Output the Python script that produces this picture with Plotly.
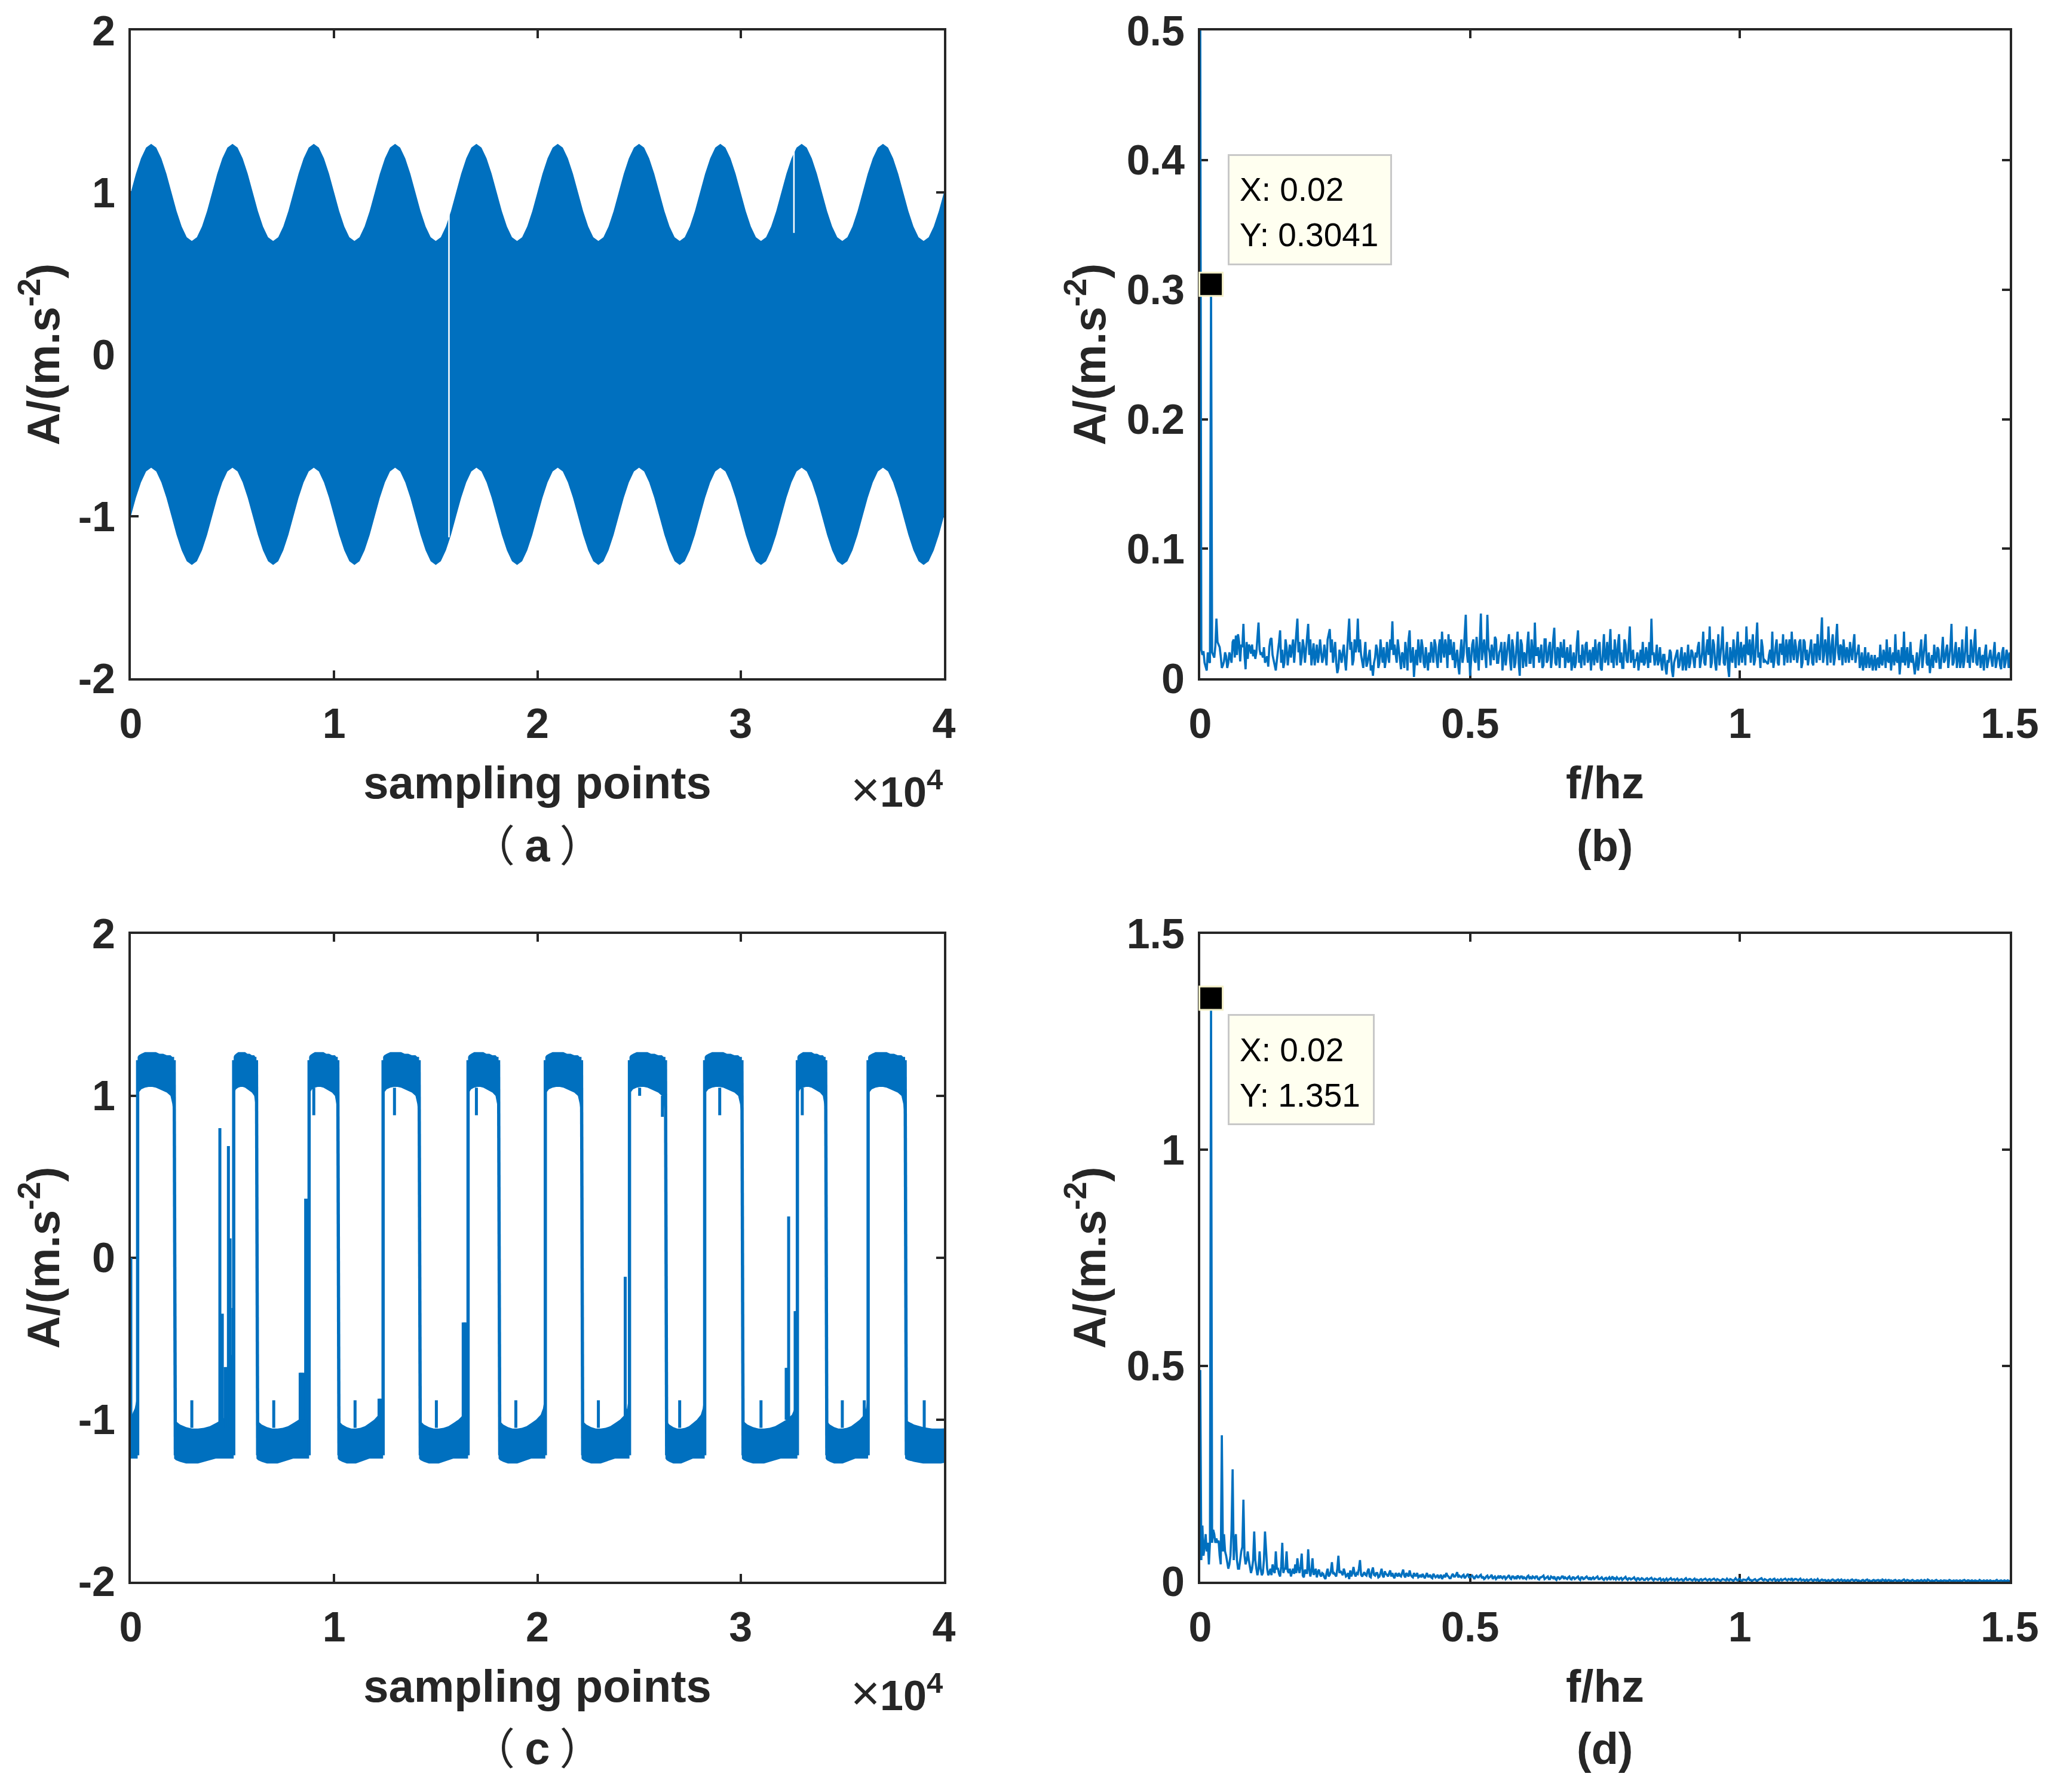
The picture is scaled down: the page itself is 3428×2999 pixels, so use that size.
import plotly.graph_objects as go

# ---------- data ----------
a_x = list(range(0, 40001, 250))
a_top = [
 1.00,1.115,1.21,1.277,1.30,1.277,1.21,1.115,1.00,.885,.79,.723,.70,.723,.79,.885,
 1.00,1.115,1.21,1.277,1.30,1.277,1.21,1.115,1.00,.885,.79,.723,.70,.723,.79,.885,
 1.00,1.115,1.21,1.277,1.30,1.277,1.21,1.115,1.00,.885,.79,.723,.70,.723,.79,.885,
 1.00,1.115,1.21,1.277,1.30,1.277,1.21,1.115,1.00,.885,.79,.723,.70,.723,.79,.885,
 1.00,1.115,1.21,1.277,1.30,1.277,1.21,1.115,1.00,.885,.79,.723,.70,.723,.79,.885,
 1.00,1.115,1.21,1.277,1.30,1.277,1.21,1.115,1.00,.885,.79,.723,.70,.723,.79,.885,
 1.00,1.115,1.21,1.277,1.30,1.277,1.21,1.115,1.00,.885,.79,.723,.70,.723,.79,.885,
 1.00,1.115,1.21,1.277,1.30,1.277,1.21,1.115,1.00,.885,.79,.723,.70,.723,.79,.885,
 1.00,1.115,1.21,1.277,1.30,1.277,1.21,1.115,1.00,.885,.79,.723,.70,.723,.79,.885,
 1.00,1.115,1.21,1.277,1.30,1.277,1.21,1.115,1.00,.885,.79,.723,.70,.723,.79,.885,
 1.00]
a_bottom = [
 -1.00,-.885,-.79,-.723,-.70,-.723,-.79,-.885,-1.00,-1.115,-1.21,-1.277,-1.30,-1.277,-1.21,-1.115,
 -1.00,-.885,-.79,-.723,-.70,-.723,-.79,-.885,-1.00,-1.115,-1.21,-1.277,-1.30,-1.277,-1.21,-1.115,
 -1.00,-.885,-.79,-.723,-.70,-.723,-.79,-.885,-1.00,-1.115,-1.21,-1.277,-1.30,-1.277,-1.21,-1.115,
 -1.00,-.885,-.79,-.723,-.70,-.723,-.79,-.885,-1.00,-1.115,-1.21,-1.277,-1.30,-1.277,-1.21,-1.115,
 -1.00,-.885,-.79,-.723,-.70,-.723,-.79,-.885,-1.00,-1.115,-1.21,-1.277,-1.30,-1.277,-1.21,-1.115,
 -1.00,-.885,-.79,-.723,-.70,-.723,-.79,-.885,-1.00,-1.115,-1.21,-1.277,-1.30,-1.277,-1.21,-1.115,
 -1.00,-.885,-.79,-.723,-.70,-.723,-.79,-.885,-1.00,-1.115,-1.21,-1.277,-1.30,-1.277,-1.21,-1.115,
 -1.00,-.885,-.79,-.723,-.70,-.723,-.79,-.885,-1.00,-1.115,-1.21,-1.277,-1.30,-1.277,-1.21,-1.115,
 -1.00,-.885,-.79,-.723,-.70,-.723,-.79,-.885,-1.00,-1.115,-1.21,-1.277,-1.30,-1.277,-1.21,-1.115,
 -1.00,-.885,-.79,-.723,-.70,-.723,-.79,-.885,-1.00,-1.115,-1.21,-1.277,-1.30,-1.277,-1.21,-1.115,
 -1.00]
a_gap_x = [15650, 15650, None, 32620, 32620]
a_gap_y = [1.0, -1.13, None, 1.31, 0.75]

freq_head = [i / 500 for i in range(61)]
b_head = [.5,.022,.018,.021,.012,.009,.006,.02,.013,.012,.3041,.02,.018,.016,.025,.046,.028,.026,.024,.017,
          .008,.01,.013,.02,.017,.008,.012,.02,.015,.012,.028,.03,.016,.033,.018,.034,.028,.013,.026,.024,
          .042,.018,.007,.028,.015,.026,.024,.019,.026,.017,.022,.015,.02,.03,.043,.022,.018,.02,.016,.024,.012]
b_tail = [
 .017,.024,.031,.014,.006,.02,.037,.022,.012,.024,.018,.016,.03,.022,.046,.028,.016,.024,.021,.042,.03,.02,.01,.026,.018,
 .022,.016,.018,.03,.038,.03,.02,.012,.008,.018,.02,.014,.02,.046,.028,.014,.02,.046,.03,.012,.018,.009,.017,.006,.002,
 .016,.022,.012,.019,.024,.014,.018,.03,.044,.026,.012,.022,.007,.018,.028,.006,.037,.015,.001,.022,.03,.012,.024,.008,.016,
 .02,.028,.012,.026,.008,.03,.036,.016,.024,.034,.03,.014,.008,.022,.003,.03,.018,.049,.012,.002,.026,.014,.032,.006,.05,
 .022,.018,.049,.02,.026,.014,.03,.012,.022,.006,.028,.018,.034,.006,.024,.012,.036,.002,.026,.02,.009,.036,.012,.02,.043,
 .018,.012,.026,.01,.03,.014,.028,.016,.039,.01,.022,.028,.016,.008,.024,.014,.006,.02,.012,.037,.018,.026,.01,.028,.016,
 .006,.024,.03,.012,.028,.006,.034,.016,.01,.038,.022,.03,.01,.034,.02,.008,.026,.012,.04,.016,.008,.014,.006,.022,.028,
 .012,.018,.028,.046,.02,.016,.01,.024,.006,.018,.003,.012,.02,.001,.016,.022,.01,.024,.014,.006,.026,.012,.02,.008,.016,
 .028,.014,.036,.01,.03,.04,.012,.026,.006,.034,.018,.04,.01,.028,.001,.016,.03,.008,.036,.02,.012,.026,.04,.018,.012,
 .034,.014,.043,.02,.03,.012,.013,.011,.022,.036,.014,.03,.01,.026,.034,.018,.012,.03,.036,.014,.024,.018,.03,.012,.028,
 .022,.016,.03,.01,.026,.034,.014,.047,.018,.024,.04,.012,.034,.016,.042,.014,.024,.03,.012,.02,.028,.014,.034,.018,.026,
 .012,.006,.024,.014,.008,.018,.012,.006,.016,.026,.01,.018,.03,.012,.006,.02,.034,.012,.003,.024,.036,.016,.008,.028,.018,
 .003,.02,.012,.03,.016,.034,.01,.004,.018,.026,.012,.022,.008,.032,.014,.026,.018,.042,.012,.028,.018,.008,.03,.014,.04,
 .018,.03,.012,.038,.01,.024,.016,.006,.026,.012,.022,.009,.028,.014,.02,.007,.024,.012,.018,.02,.006,.016,.012,.018,.01]
b_mid = [
 .009,.03,.018,.01,.014,.028,.012,.008,.03,.01,.026,.024,.012,.034,.02,.01,.03,.012,.03,.018,.01,.027,.02,.012,.03,
 .012,.026,.01,.034,.02,.012,.028,.004,.022,.012,.026,.006,.034,.022,.01,.03,.026,.02,.018,.008,.028,.012,.022,.01,.012,
 .026,.008,.03,.012,.008,.028,.012,.022,.018,.02,.03,.012,.02,.008,.02,.03,.012,.024,.014,.01,.02,.03,.012,.024,.006,
 .012,.018,.03,.014,.024,.012,.022,.03,.008,.018,.02,.028,.016,.01,.02,.012,.034,.02,.024,.014,.03,.012,.02,.028,.014,
 .03,.008,.024,.01,.018,.032,.012,.02,.028,.016,.01,.026,.014,.03,.008,.024,.012,.03,.008,.018,.026,.012,.03,.008,.018,
 .024,.02,.008,.03,.012,.024,.008,.03,.012,.024,.008,.018,.03,.016,.012,.026,.012,.008,.028,.012,.008,.018,.026,.012,.022,
 .018,.01,.016,.026,.008,.02,.012,.028,.022,.012,.008,.02,.026,.012,.008,.03,.014,.026,.012,.022,.014,.02,.016,.012,.01,
 .024,.008,.012,.018,.01,.026,.014,.012,.018,.008,.014,.022,.006,.012,.02,.008,.018,.006,.02,.014,.008,.022,.012,.02,.024,
 .008,.02,.012,.024,.018,.008,.03,.012,.022,.01,.026,.012,.022,.008,.024,.012,.02,.024,.01,.028,.022,.01,.02,.03,.024,
 .01,.028,.016,.008,.024,.014,.012,.018,.012,.008,.024,.012,.026,.018,.01,.03,.024,.012,.02,.03,.012,.028,.008,.03,.014,
 .01,.024,.012,.026,.012,.02,.03,.012,.03,.01,.022,.026,.01,.03,.02,.026,.01,.02,.024,.012,.02,.026,.012,.02,.008,
 .02,.012,.008,.02,.012,.006,.018,.014,.008,.012,.022,.008,.014,.024,.016,.01,.014,.022,.014,.012,.01,.024,.014,.012,.008,
 .012,.006,.022,.008,.024,.012,.02,.012,.008,.016,.024,.008,.02,.012,.022,.008,.024,.01,.02,.008,.024,.014,.008,.024,.012,
 .008,.02,.026,.012,.02,.008,.018,.02,.008,.018,.014,.02,.008,.018,.01,.02,.008,.022,.008,.012,.016,.008,.02,.012,.014]
d_head = [.49,.05,.13,.06,.08,.11,.07,.09,.04,.09,1.351,.09,.12,.11,.09,.10,.09,.095,.06,.04,
          .339,.07,.11,.07,.06,.04,.03,.04,.06,.12,.26,.05,.09,.11,.05,.03,.03,.05,.07,.08,
          .19,.06,.04,.05,.07,.05,.03,.02,.03,.05,.116,.05,.03,.015,.03,.07,.03,.015,.02,.05,.116]
d_tail = [
 .03,.02,.015,.025,.07,.03,.012,.09,.03,.07,.02,.012,.03,.04,.054,.02,.065,.01,.02,.075,.012,.054,.02,.01,.028,
 .012,.018,.006,.03,.016,.045,.02,.012,.06,.025,.015,.02,.014,.006,.012,.034,.012,.018,.05,.012,.022,.014,.03,.01,.033,
 .014,.02,.012,.03,.01,.018,.012,.026,.02,.008,.016,.02,.012,.028,.01,.016,.026,.012,.02,.014,.01,.016,.018,.008,.02,
 .012,.01,.018,.01,.016,.012,.006,.016,.02,.012,.008,.018,.012,.022,.014,.01,.016,.012,.018,.01,.014,.006,.014,.01,.016,
 .012,.008,.014,.01,.016,.01,.006,.012,.014,.008,.012,.01,.015,.006,.012,.01,.014,.008,.012,.01,.006,.014,.01,.012,.008,
 .012,.005,.01,.014,.008,.012,.006,.01,.012,.004,.01,.008,.012,.01,.006,.012,.005,.01,.008,.012,.004,.01,.007,.012,.006,
 .004,.01,.008,.012,.006,.01,.004,.009,.007,.004,.012,.008,.01,.005,.009,.006,.011,.004,.008,.006,.01,.003,.008,.005,.007,
 .004,.008,.006,.009,.003,.006,.004,.008,.005,.002,.007,.004,.008,.005,.003,.007,.004,.006,.003,.008,.004,.006,.003,.007,.005,
 .002,.006,.004,.007,.003,.006,.004,.007,.003,.005,.002,.006,.004,.007,.003,.005,.002,.008,.003,.006,.002,.005,.003,.009,.004,
 .003,.006,.002,.005,.008,.003,.005,.002,.006,.003,.007,.004,.002,.006,.004,.007,.003,.005,.008,.004,.006,.003,.007,.004,.002,
 .005,.003,.006,.002,.004,.006,.002,.005,.003,.001,.004,.002,.005,.003,.004,.002,.005,.003,.001,.004,.002,.005,.002,.004,.003,
 .001,.004,.002,.005,.003,.001,.004,.002,.004,.003,.005,.002,.001,.004,.003,.002,.004,.001,.003,.002,.005,.002,.003,.001,.004,
 .002,.003,.001,.004,.002,.003,.005,.002,.003,.001,.004,.002,.003,.001,.003,.002,.004,.001,.003,.002,.001,.003,.002,.004,.001,
 .003,.002,.001,.003,.002,.004,.001,.003,.002,.001,.003,.002,.001,.004,.002,.003,.001,.002,.003,.001,.002,.004,.001,.002,.001]
d_mid = [
 .015,.03,.04,.02,.03,.018,.035,.02,.03,.025,.03,.022,.018,.02,.03,.035,.014,.028,.02,.03,.025,.016,.03,.022,.016,
 .02,.01,.02,.012,.024,.018,.016,.03,.02,.02,.03,.012,.02,.026,.02,.018,.02,.03,.016,.018,.016,.024,.012,.024,.016,
 .02,.01,.02,.014,.024,.016,.02,.012,.012,.02,.012,.014,.02,.014,.02,.012,.016,.01,.014,.02,.012,.01,.012,.014,.012,
 .016,.008,.014,.012,.008,.016,.012,.01,.014,.008,.014,.012,.016,.01,.012,.014,.008,.014,.01,.012,.01,.012,.01,.014,.008,
 .006,.012,.008,.012,.006,.012,.01,.008,.01,.012,.006,.012,.008,.012,.008,.006,.01,.012,.006,.008,.012,.008,.006,.01,.012,
 .006,.01,.012,.006,.01,.006,.012,.008,.006,.01,.006,.012,.006,.008,.01,.006,.01,.006,.01,.006,.01,.006,.01,.008,.01,
 .008,.006,.01,.006,.008,.006,.008,.005,.01,.008,.006,.005,.007,.008,.004,.008,.006,.008,.005,.008,.005,.008,.004,.008,.004,
 .007,.004,.007,.005,.007,.004,.007,.003,.006,.005,.003,.006,.004,.006,.005,.003,.006,.003,.006,.004,.006,.004,.005,.003,.004,
 .005,.003,.006,.004,.005,.003,.005,.004,.006,.003,.004,.005,.003,.004,.006,.003,.005,.004,.006,.003,.005,.004,.006,.004,.002,
 .005,.003,.004,.006,.004,.006,.003,.005,.004,.006,.002,.005,.004,.003,.005,.004,.006,.004,.003,.006,.004,.005,.003,.005,.004,
 .002,.005,.003,.005,.003,.002,.004,.003,.004,.003,.002,.004,.003,.002,.005,.003,.002,.004,.003,.002,.004,.003,.004,.002,.001,
 .003,.002,.004,.002,.001,.003,.002,.003,.002,.001,.003,.004,.003,.002,.001,.003,.002,.003,.001,.003,.002,.004,.002,.003,.002,
 .001,.003,.002,.002,.004,.001,.003,.001,.002,.003,.002,.001,.002,.003,.002,.001,.003,.002,.002,.003,.002,.001,.003,.002,.003,
 .001,.003,.002,.002,.001,.003,.002,.001,.003,.002,.001,.002,.003,.001,.002,.002,.003,.001,.002,.002,.003,.001,.002,.001,.002]
freq = freq_head + [0.124 + 0.002 * i for i in range(2 * len(b_tail))]
b_amp = b_head + [v for pair in zip(b_tail, b_mid) for v in pair]
d_amp = d_head + [v for pair in zip(d_tail, d_mid) for v in pair]

# panel (c): switching edges, band outlines at fractions along each dwell, spikes
c_high_start = [335, 5060, 8770, 12410, 16590, 20390, 24530, 28230, 32790, 36270]
c_high_end   = [2130, 6180, 10180, 14180, 18090, 22170, 26300, 30060, 34180, 38090]
c_frac       = [0, .03, .1, .2, .3, .4, .5, .6, .7, .8, .9, .95, 1]
c_high_outer = [1.24, 1.25, 1.26, 1.27, 1.27, 1.27, 1.27, 1.26, 1.26, 1.25, 1.25, 1.24, 1.24]
c_high_inner = [1.0, 1.02, 1.04, 1.05, 1.055, 1.055, 1.05, 1.04, 1.03, 1.02, 1.0, .95, .85]
c_low_outer  = [-1.24, -1.25, -1.26, -1.27, -1.27, -1.27, -1.26, -1.25, -1.24, -1.24, -1.24, -1.24, -1.24]
c_low_inner  = [-1.0, -1.01, -1.03, -1.045, -1.055, -1.055, -1.05, -1.04, -1.02, -1.0, -.97, -.93, -.84]
c_spike_x    = [3000, 7030, 11030, 15030, 18940, 23000, 27000, 31000, 35000, 39030,
                4380, 4500, 4640, 4700, 4800, 4880, 4950, 5020, 8330, 8400, 8500, 8600, 8680, 12210, 12300,
                16350, 16420, 16480, 24320, 32240, 32300, 32360, 32680, 32740, 36080,
                9000, 12970, 17000, 25030, 28970, 33030, 26150, 0]
c_spike_from = [-1.05, -1.05, -1.05, -1.05, -1.05, -1.05, -1.05, -1.05, -1.05, -1.05,
                -1.05, -1.05, -1.05, -1.05, -1.05, -1.05, -1.05, -1.05, -1.0, -1.0, -1.0, -1.0, -1.0, -1.0, -1.0,
                -1.0, -1.0, -1.0, -1.0, -1.0, -1.0, -1.0, -1.0, -1.0, -1.0,
                1.05, 1.05, 1.05, 1.05, 1.05, 1.05, 1.0, -1.24]
c_spike_to   = [-.88, -.88, -.88, -.88, -.88, -.88, -.88, -.88, -.88, -.88,
                .80, -.345, -.675, -.675, .69, .12, -.6, -.31, -.71, -.71, -.71, .365, .365, -.87, -.87,
                -.4, -.4, -.4, -.117, -.68, -.68, .255, -.33, -.33, -.88,
                .88, .88, .88, 1.0, .88, .88, .87, 0]

b_tip = (0.02, 0.3041)
d_tip = (0.02, 1.351)
time_ticks = [0, 10000, 20000, 30000, 40000]
time_labels = ["0", "1", "2", "3", "4"]
amp_ticks = [-2, -1, 0, 1, 2]
amp_labels = ["-2", "-1", "0", "1", "2"]
freq_ticks = [0, 0.5, 1, 1.5]
freq_labels = ["0", "0.5", "1", "1.5"]
b_ticks = [0, .1, .2, .3, .4, .5]
b_labels = ["0", "0.1", "0.2", "0.3", "0.4", "0.5"]
d_ticks = [0, .5, 1, 1.5]
d_labels = ["0", "0.5", "1", "1.5"]

# ---------- layout constants ----------
W, H = 3428, 2999
BLUE = "#0070BF"
INK = "#262626"
FONT = "Liberation Sans, Arial"
CJK = "Noto Sans CJK SC"
L, R, T, B = 219, 3364, 49, 2647
X1, X2 = (219, 1580), (2009, 3364)
Y1, Y2 = (49, 1134), (1562, 2647)
PW, PH = R - L, B - T
dx = lambda p: [(p[0] - L) / PW, (p[1] - L) / PW]
dy = lambda p: [(B - p[1]) / PH, (B - p[0]) / PH]

fig = go.Figure()


def line(x, y, ax, w=3.6, color=BLUE):
    fig.add_trace(go.Scatter(x=x, y=y, mode="lines", line=dict(color=color, width=w),
                             xaxis="x" + ax, yaxis="y" + ax, showlegend=False, hoverinfo="skip"))


# (a)
fig.add_trace(go.Scatter(x=a_x + a_x[::-1], y=a_top + a_bottom[::-1], mode="lines", fill="toself",
                         fillcolor=BLUE, line=dict(color=BLUE, width=0), xaxis="x", yaxis="y",
                         showlegend=False, hoverinfo="skip"))
line(a_gap_x, a_gap_y, "", w=2.5, color="#ffffff")

# (b)
line(freq, b_amp, "2")

# (c)
band_x, band_y, edge_x, edge_y = [], [], [], []
for s, e in zip(c_high_start, c_high_end):
    xs = [s + f * (e - s) for f in c_frac]
    band_x += xs + xs[::-1] + [None]
    band_y += c_high_outer + c_high_inner[::-1] + [None]
    edge_x += [s, s, None, e, e + 60, None]
    edge_y += [-1.22, 1.22, None, 1.22, -1.22, None]
low_start = [-2500] + c_high_end
low_end = c_high_start + [42500]
for s, e in zip(low_start, low_end):
    xs = [s + f * (e - s) for f in c_frac]
    band_x += xs + xs[::-1] + [None]
    band_y += c_low_outer + c_low_inner[::-1] + [None]
fig.add_trace(go.Scatter(x=band_x, y=band_y, mode="lines", fill="toself", fillcolor=BLUE,
                         line=dict(color=BLUE, width=0), xaxis="x3", yaxis="y3",
                         showlegend=False, hoverinfo="skip"))
line(edge_x, edge_y, "3", w=5.5)
spike_x, spike_y = [], []
for x, a, b in zip(c_spike_x, c_spike_from, c_spike_to):
    spike_x += [x, x, None]
    spike_y += [a, b, None]
line(spike_x, spike_y, "3", w=5)

# (d)
line(freq, d_amp, "4")

# data-tip markers
for tip, ax in ((b_tip, "2"), (d_tip, "4")):
    fig.add_trace(go.Scatter(x=[tip[0]], y=[tip[1]], mode="markers", cliponaxis=False,
                             marker=dict(symbol="square", size=39, color="#000000",
                                         line=dict(color="#F3EFC8", width=3)),
                             xaxis="x" + ax, yaxis="y" + ax, showlegend=False, hoverinfo="skip"))


def axis(dom, anchor, rng, ticks, labels, title, standoff, tick_gap):
    return dict(domain=dom, anchor=anchor, range=rng, tickmode="array", tickvals=ticks, ticktext=labels,
                ticks="inside", ticklen=13, tickwidth=4, tickcolor=INK, showline=True, linewidth=4,
                linecolor=INK, mirror="ticks", showgrid=False, zeroline=False, layer="below traces",
                ticklabelstandoff=tick_gap,
                tickfont=dict(family=FONT, size=70, color=INK, weight="bold"),
                title=dict(text=f"<b>{title}</b>", standoff=standoff,
                           font=dict(family=FONT, size=76, color=INK)))


YT = "A/(m.s<sup>-2</sup>)"
fig.update_layout(
    width=W, height=H, margin=dict(l=L, r=W - R, t=T, b=H - B), paper_bgcolor="#ffffff", plot_bgcolor="#ffffff",
    showlegend=False, font=dict(family=FONT, color=INK),
    xaxis=axis(dx(X1), "y", [0, 40000], time_ticks, time_labels, "sampling points", 35, 12),
    yaxis=axis(dy(Y1), "x", [-2, 2], amp_ticks, amp_labels, YT, 7, 8),
    xaxis2=axis(dx(X2), "y2", [0, 1.5], freq_ticks, freq_labels, "f/hz", 35, 12),
    yaxis2=axis(dy(Y1), "x2", [0, .5], b_ticks, b_labels, YT, 11, 8),
    xaxis3=axis(dx(X1), "y3", [0, 40000], time_ticks, time_labels, "sampling points", 35, 12),
    yaxis3=axis(dy(Y2), "x3", [-2, 2], amp_ticks, amp_labels, YT, 7, 8),
    xaxis4=axis(dx(X2), "y4", [0, 1.5], freq_ticks, freq_labels, "f/hz", 35, 12),
    yaxis4=axis(dy(Y2), "x4", [0, 1.5], d_ticks, d_labels, YT, 11, 8),
)

BOX = dict(font=dict(family=FONT, size=20, color="#000000"), bgcolor="#FFFFF0", bordercolor="#C8C8C8",
           borderwidth=3, borderpad=0, showarrow=False, xanchor="left", text="&nbsp;")
fig.add_annotation(x=b_tip[0], y=b_tip[1], xref="x2", yref="y2", xshift=28, yshift=32,
                   yanchor="bottom", width=269, height=180, **BOX)
fig.add_annotation(x=d_tip[0], y=d_tip[1], xref="x4", yref="y4", xshift=28, yshift=-26,
                   yanchor="top", width=240, height=180, **BOX)
LBL = dict(font=dict(family=FONT, size=55, color="#000000"), showarrow=False, xanchor="left", yanchor="middle")
for tip, xr, yr, lines, shifts in (
        (b_tip, "x2", "y2", ("X: 0.02", "Y: 0.3041"), (159, 83)),
        (d_tip, "x4", "y4", ("X: 0.02", "Y: 1.351"), (-86, -162))):
    for txt, ys in zip(lines, shifts):
        fig.add_annotation(x=tip[0], y=tip[1], xref=xr, yref=yr, text=txt, xshift=46, yshift=ys, **LBL)

for xr, yr in (("x", "y"), ("x3", "y3")):
    fig.add_annotation(x=40000, y=-2, xref=xr, yref=yr, text="<span style='font-size:84px'>×</span><b>10<sup>4</sup></b>",
                       showarrow=False, xanchor="right", yanchor="top", yshift=-137,
                       font=dict(family=FONT, size=70, color=INK))
for letter, xr, yr, y0, xm in (("a", "x", "y", -2, 20000), ("c", "x3", "y3", -2, 20000)):
    fig.add_annotation(x=xm, y=y0, xref=xr, yref=yr, yshift=-274, showarrow=False, xanchor="center", yanchor="middle",
                       text=f"（ <span style='font-family:Liberation Sans;font-weight:bold;font-size:76px'>{letter}</span> ）",
                       font=dict(family=CJK, size=72, color=INK))
for text, xr, yr in (("<b>(b)</b>", "x2", "y2"), ("<b>(d)</b>", "x4", "y4")):
    fig.add_annotation(x=.75, y=0, xref=xr, yref=yr, text=text, yshift=-280, showarrow=False, xanchor="center",
                       yanchor="middle", font=dict(family=FONT, size=74, color=INK))

fig.write_html("out.html", post_script="document.body.style.margin='0';", config=dict(displayModeBar=False))
